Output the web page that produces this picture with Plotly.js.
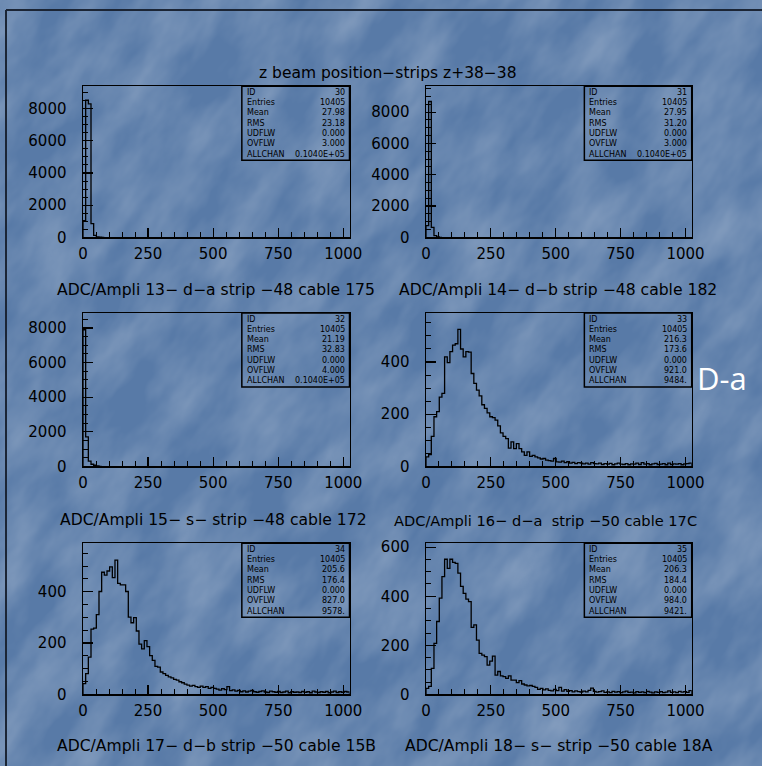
<!DOCTYPE html>
<html><head><meta charset="utf-8">
<script src="https://cdn.plot.ly/plotly-3.0.1.min.js"></script>
<style>
html,body{margin:0;padding:0;width:762px;height:766px;overflow:hidden;}
body{background-color:rgb(88,122,167);
background-image:url("data:image/svg+xml;utf8,<svg xmlns='http://www.w3.org/2000/svg' width='762' height='766'><filter id='n' x='0' y='0' width='100%25' height='100%25'><feTurbulence type='fractalNoise' baseFrequency='0.012 0.024' numOctaves='4' seed='11'/><feColorMatrix values='0 0 0 0 1  0 0 0 0 1  0 0 0 0 1  0.4 0 0 0 -0.12'/></filter><g transform='rotate(-55 381 383)'><rect x='-500' y='-500' width='1800' height='1800' filter='url(%23n)'/></g></svg>");}
#chart{width:762px;height:766px;}
</style></head><body><div id="chart"></div>
<script>
// ---------- data ----------
const binWidth = 10.24;   // 100 bins over 0..1024 ADC channels
const hist30 = [1030, 8525, 8300, 850, 120, 30, 10, 0];
const hist31 = [750, 8680, 640, 110, 30, 0];
const hist32 = [7900, 1700, 300, 120, 60, 20, 0];
const hist33 = [36, 45, 115, 190, 210, 265, 280, 420, 398, 440,
                465, 470, 525, 450, 420, 440, 438, 356, 318, 292,
                270, 236, 222, 205, 190, 187, 177, 155, 128, 115,
                106, 70, 94, 68, 87, 68, 55, 42, 55, 38,
                42, 36, 32, 28, 30, 24, 22, 20, 30, 17,
                16, 20, 14, 18, 12, 15, 10, 14, 12, 9,
                12, 8, 14, 10, 9, 12, 7, 10, 8, 11,
                6, 9, 12, 8, 7, 10, 6, 9, 8, 12,
                7, 14, 8, 10, 6, 9, 11, 7, 8, 10,
                6, 12, 7, 9, 8, 10, 6, 9, 10, 12];
const hist34 = [42, 81, 145, 254, 258, 311, 401, 476, 465, 481,
                497, 455, 523, 433, 427, 427, 401, 301, 279, 299,
                247, 196, 177, 209, 186, 151, 132, 109, 106, 87,
                81, 74, 68, 64, 58, 55, 49, 45, 40, 36,
                32, 35, 30, 27, 32, 27, 30, 23, 27, 23,
                20, 16, 22, 18, 30, 14, 17, 12, 15, 10,
                13, 9, 12, 15, 10, 8, 11, 13, 9, 7,
                12, 10, 8, 11, 7, 9, 12, 6, 10, 8,
                9, 7, 11, 8, 10, 6, 12, 9, 7, 10,
                8, 11, 6, 9, 12, 7, 10, 8, 11, 9];
const hist35 = [24, 32, 106, 208, 297, 392, 480, 551, 514, 551,
                538, 534, 494, 440, 412, 388, 378, 273, 283, 221,
                167, 160, 154, 119, 135, 156, 78, 93, 75, 72,
                65, 75, 58, 58, 48, 56, 42, 38, 34, 36,
                32, 28, 20, 24, 18, 22, 16, 14, 20, 15,
                28, 13, 19, 12, 15, 10, 14, 11, 9, 13,
                10, 16, 25, 12, 9, 11, 14, 8, 10, 7,
                12, 9, 11, 7, 10, 13, 8, 9, 6, 11,
                8, 10, 7, 12, 9, 6, 10, 8, 11, 7,
                9, 14, 8, 10, 7, 12, 9, 11, 8, 15];
const histograms = [hist30, hist31, hist32, hist33, hist34, hist35];

const statLabels = ['ID', 'Entries', 'Mean', 'RMS', 'UDFLW', 'OVFLW', 'ALLCHAN'];
const stats30 = ['30', '10405', '27.98', '23.18', '0.000', '3.000', '0.1040E+05'];
const stats31 = ['31', '10405', '27.95', '31.20', '0.000', '3.000', '0.1040E+05'];
const stats32 = ['32', '10405', '21.19', '32.83', '0.000', '4.000', '0.1040E+05'];
const stats33 = ['33', '10405', '216.3', '173.6', '0.000', '921.0', '9484.'];
const stats34 = ['34', '10405', '205.6', '176.4', '0.000', '827.0', '9578.'];
const stats35 = ['35', '10405', '206.3', '184.4', '0.000', '984.0', '9421.'];
const statValues = [stats30, stats31, stats32, stats33, stats34, stats35];

const subtitles = [
  'ADC/Ampli 13\u2212 d\u2212a strip \u221248 cable 175',
  'ADC/Ampli 14\u2212 d\u2212b strip \u221248 cable 182',
  'ADC/Ampli 15\u2212 s\u2212 strip \u221248 cable 172',
  'ADC/Ampli 16\u2212 d\u2212a  strip \u221250 cable 17C',
  'ADC/Ampli 17\u2212 d\u2212b strip \u221250 cable 15B',
  'ADC/Ampli 18\u2212 s\u2212 strip \u221250 cable 18A'
];
const mainTitle = 'z beam position\u2212strips z+38\u221238';
const sideLabel = 'D-a';

const xTickVals = [0, 250, 500, 750, 1000];
const yTickValsLarge = [0, 2000, 4000, 6000, 8000];
const yTickValsSmall = [0, 200, 400];
const yTickValsSmall6 = [0, 200, 400, 600];
const yTickSets = [yTickValsLarge, yTickValsLarge, yTickValsLarge, yTickValsSmall, yTickValsSmall, yTickValsSmall6];
const yMax = [9390, 9650, 8870, 588, 589, 616];
const xMax = 1024;

// ---------- layout geometry (pixels) ----------
const W = 762, H = 766;
const FONT = 'DejaVu Sans';
const cols = [[83, 349.5], [426, 691.7]];
const rows = [[86.3, 237.3], [313, 466.3], [543.3, 694.3]];
const subPos = [[216, 290], [558, 290], [213, 520], [545, 520], [217, 746], [559, 746]];
const subSize = [15.6, 15.6, 15.6, 14.6, 15.6, 15.6];

const traces = [], shapes = [], annotations = [];
const layout = {
  width: W, height: H, margin: {l: 0, r: 0, t: 0, b: 0},
  paper_bgcolor: 'rgba(0,0,0,0)', plot_bgcolor: 'rgba(0,0,0,0)',
  showlegend: false, shapes, annotations
};

function stepXY(vals) {
  const x = [0], y = [0];
  vals.forEach((v, i) => { x.push(i * binWidth); y.push(v); });
  x.push(vals.length * binWidth); y.push(vals[vals.length - 1]);
  x.push(vals.length * binWidth); y.push(0);
  return {x, y};
}

histograms.forEach((vals, k) => {
  const c = cols[k % 2], r = rows[Math.floor(k / 2)];
  const sfx = k === 0 ? '' : String(k + 1);
  const xd = [c[0] / W, c[1] / W];
  const yd = [1 - r[1] / H, 1 - r[0] / H];
  const plotH = r[1] - r[0];
  const big = yMax[k] > 2000;
  layout['xaxis' + sfx] = {
    domain: xd, anchor: 'y' + sfx, range: [0, xMax],
    tickmode: 'array', tickvals: xTickVals, ticktext: xTickVals.map(String),
    ticks: 'inside', ticklen: 9, tickwidth: 1.2, tickcolor: '#000',
    minor: {tickmode: 'linear', tick0: 0, dtick: 50, ticks: 'inside', ticklen: 5, tickwidth: 1, tickcolor: '#000', showgrid: false},
    showline: true, linecolor: '#000', linewidth: 1.5, mirror: true,
    showgrid: false, zeroline: false, fixedrange: true,
    tickfont: {family: FONT, size: 15, color: '#000'}, ticklabelstandoff: 2
  };
  layout['yaxis' + sfx] = {
    domain: yd, anchor: 'x' + sfx, range: [0, yMax[k]],
    tickmode: 'array', tickvals: yTickSets[k], ticktext: yTickSets[k].map(String),
    ticks: 'inside', ticklen: 10, tickwidth: 1.2, tickcolor: '#000',
    minor: {tickmode: 'linear', tick0: 0, dtick: big ? 500 : 50, ticks: 'inside', ticklen: 5, tickwidth: 1, tickcolor: '#000', showgrid: false},
    showline: true, linecolor: '#000', linewidth: 1.5, mirror: true,
    showgrid: false, zeroline: false, fixedrange: true,
    tickfont: {family: FONT, size: 15, color: '#000'}, ticklabelstandoff: 12
  };
  const s = stepXY(vals);
  traces.push({
    type: 'scatter', mode: 'lines', x: s.x, y: s.y, xaxis: 'x' + sfx, yaxis: 'y' + sfx,
    line: {shape: 'hv', color: '#000', width: 1.3}, hoverinfo: 'skip'
  });
  // stats box
  const boxLeft = 0.596, boxH = 74 / plotH;
  shapes.push({type: 'rect', xref: 'x' + sfx + ' domain', yref: 'y' + sfx + ' domain',
    x0: boxLeft, x1: 1, y0: 1 - boxH, y1: 1, line: {color: '#000', width: 1.5}});
  statLabels.forEach((lab, j) => {
    annotations.push({xref: 'x' + sfx + ' domain', yref: 'y' + sfx + ' domain', x: boxLeft, y: 1,
      xanchor: 'left', yanchor: 'middle', xshift: 3, yshift: -(6 + 10.3 * j), showarrow: false,
      text: lab, font: {family: FONT, size: 8, color: '#000'}});
    annotations.push({xref: 'x' + sfx + ' domain', yref: 'y' + sfx + ' domain', x: 1, y: 1,
      xanchor: 'right', yanchor: 'middle', xshift: -3, yshift: -(6 + 10.3 * j), showarrow: false,
      text: statValues[k][j], font: {family: FONT, size: 8, color: '#000'}});
  });
  annotations.push({xref: 'paper', yref: 'paper', x: subPos[k][0] / W, y: 1 - subPos[k][1] / H,
    xanchor: 'center', yanchor: 'middle', showarrow: false, text: subtitles[k],
    font: {family: FONT, size: subSize[k], color: '#000'}});
});

annotations.push({xref: 'paper', yref: 'paper', x: 388 / W, y: 1 - 73 / H, xanchor: 'center', yanchor: 'middle',
  showarrow: false, text: mainTitle, font: {family: FONT, size: 15.5, color: '#000'}});
annotations.push({xref: 'paper', yref: 'paper', x: 722 / W, y: 1 - 378 / H, xanchor: 'center', yanchor: 'middle',
  showarrow: false, text: sideLabel, font: {family: 'Open Sans', size: 31, color: '#fff'}});

// outer slide frame
shapes.push({type: 'line', xref: 'paper', yref: 'paper', x0: 6 / W, x1: 1, y0: 1 - 10 / H, y1: 1 - 10 / H,
  line: {color: '#1b2535', width: 2}});
shapes.push({type: 'line', xref: 'paper', yref: 'paper', x0: 6 / W, x1: 6 / W, y0: 1 - 10 / H, y1: 0,
  line: {color: '#1b2535', width: 2}});

Plotly.newPlot('chart', traces, layout, {displayModeBar: false, staticPlot: true});
</script>
</body></html>
